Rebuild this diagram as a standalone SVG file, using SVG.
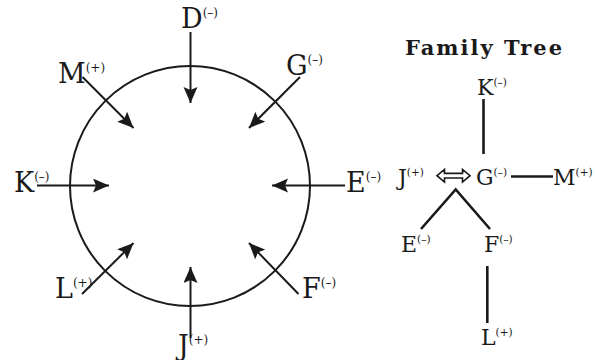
<svg xmlns="http://www.w3.org/2000/svg" width="595" height="360" viewBox="0 0 595 360">
<style>
.lbl{font-family:"DejaVu Serif","Liberation Serif",serif;font-size:27px;fill:#1a1a1a}
.lbl tspan{font-size:12px}
.tl{font-family:"DejaVu Serif","Liberation Serif",serif;font-size:22px;fill:#1a1a1a}
.tl tspan{font-size:10.5px}
.arr{stroke:#1a1a1a;stroke-width:2;fill:none;marker-end:url(#ah)}
.ln{stroke:#1a1a1a;stroke-width:2.6;fill:none}
.title{font-family:"DejaVu Serif","Liberation Serif",serif;font-size:21px;font-weight:bold;fill:#1a1a1a}
</style>
<defs>
<marker id="ah" markerUnits="userSpaceOnUse" markerWidth="17" markerHeight="15" refX="16" refY="7" orient="auto">
<path d="M0,0 L16,7 L0,14 L3,7 z" fill="#1a1a1a"/>
</marker>
</defs>
<rect width="595" height="360" fill="#fff"/>
<g id="circle"><circle cx="190" cy="186" r="120" fill="none" stroke="#1a1a1a" stroke-width="2"/></g>
<g id="connectors">
<line class="arr" x1="190.5" y1="32" x2="190.5" y2="103"/>
<line class="arr" x1="82.5" y1="77" x2="133.5" y2="128"/>
<line class="arr" x1="300" y1="77" x2="249" y2="128"/>
<line class="arr" x1="37" y1="185.5" x2="109" y2="185.5"/>
<line class="arr" x1="345" y1="185.5" x2="272" y2="185.5"/>
<line class="arr" x1="82" y1="294" x2="133.5" y2="243"/>
<line class="arr" x1="298.5" y1="294" x2="249" y2="243"/>
<line class="arr" x1="190.5" y1="338" x2="190.5" y2="267"/>
<line class="ln" x1="483.5" y1="99" x2="483.5" y2="154"/>
<line class="ln" x1="511" y1="176.5" x2="553" y2="176.5"/>
<polyline class="ln" points="421,229 455.7,189.5 490,229"/>
<line class="ln" x1="487.3" y1="266" x2="487.3" y2="323"/>
<path d="M437,175.7 L444.5,169.5 L444.5,173.4 L462.5,173.4 L462.5,169.5 L470,175.7 L462.5,182 L462.5,178 L444.5,178 L444.5,182 Z" fill="none" stroke="#1a1a1a" stroke-width="1.6" stroke-linejoin="miter"/>
</g>
<g id="node-D"><text class="lbl" x="181" y="28">D<tspan dy="-11">(–)</tspan></text></g>
<g id="node-M"><text class="lbl" x="58" y="83">M<tspan dy="-11">(+)</tspan></text></g>
<g id="node-G"><text class="lbl" x="286" y="75">G<tspan dy="-11">(–)</tspan></text></g>
<g id="node-K"><text class="lbl" x="14" y="192">K<tspan dy="-11">(–)</tspan></text></g>
<g id="node-E"><text class="lbl" x="346" y="192">E<tspan dy="-11">(–)</tspan></text></g>
<g id="node-L"><text class="lbl" x="55" y="298">L<tspan dy="-11">(+)</tspan></text></g>
<g id="node-F"><text class="lbl" x="302" y="298">F<tspan dy="-11">(–)</tspan></text></g>
<g id="node-J"><text class="lbl" x="178" y="355">J<tspan dy="-11">(+)</tspan></text></g>
<g id="title"><text class="title" x="405" y="55" textLength="157" lengthAdjust="spacing">Family Tree</text></g>
<g id="tree-K"><text class="tl" x="477" y="95">K<tspan dy="-9.5">(–)</tspan></text></g>
<g id="tree-J"><text class="tl" x="398" y="185">J<tspan dy="-9.5">(+)</tspan></text></g>
<g id="tree-G"><text class="tl" x="476" y="185">G<tspan dy="-9.5">(–)</tspan></text></g>
<g id="tree-M"><text class="tl" x="553" y="185">M<tspan dy="-9.5">(+)</tspan></text></g>
<g id="tree-E"><text class="tl" x="401" y="252">E<tspan dy="-9.5">(–)</tspan></text></g>
<g id="tree-F"><text class="tl" x="484" y="252">F<tspan dy="-9.5">(–)</tspan></text></g>
<g id="tree-L"><text class="tl" x="481" y="345">L<tspan dy="-9.5">(+)</tspan></text></g>
</svg>
